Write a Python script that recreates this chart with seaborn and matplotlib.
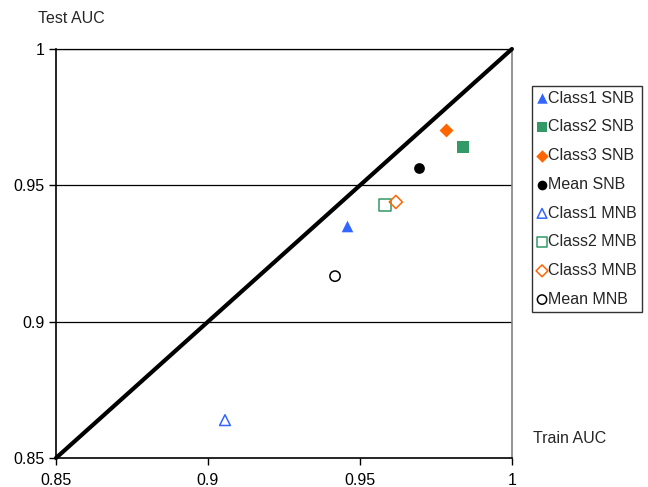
import matplotlib
matplotlib.use("Agg")
import matplotlib.pyplot as plt
import seaborn as sns
import pandas as pd

sns.set_theme(style="white")
plt.rcParams['font.family'] = ['Liberation Sans', 'DejaVu Sans']

labels = ["Class1 SNB", "Class2 SNB", "Class3 SNB", "Mean SNB",
          "Class1 MNB", "Class2 MNB", "Class3 MNB", "Mean MNB"]
train_auc = [0.9457, 0.9839, 0.9783, 0.9694, 0.9056, 0.9582, 0.9618, 0.9418]
test_auc = [0.9350, 0.9640, 0.9703, 0.9563, 0.8639, 0.9428, 0.9439, 0.9167]
colors = ["#3366ff", "#339966", "#ff6600", "#000000",
          "#3366ff", "#339966", "#ff6600", "#000000"]
markers = ["^", "s", "D", "o", "^", "s", "D", "o"]
filled = [True, True, True, True, False, False, False, False]
sizes = [70, 75, 50, 60, 60, 75, 45, 55]

x_ticks = [0.85, 0.9, 0.95, 1.0]
x_ticklabels = ["0.85", "0.9", "0.95", "1"]
y_ticks = [0.85, 0.9, 0.95, 1.0]
y_ticklabels = ["0.85", "0.9", "0.95", "1"]

df = pd.DataFrame({"label": labels, "train": train_auc, "test": test_auc})

fig = plt.figure(figsize=(6.48, 4.87), dpi=100)
ax = fig.add_axes([0.0864, 0.0595, 0.7036, 0.8399])

for i, row in df.iterrows():
    c = colors[i]
    sns.scatterplot(x=[row["train"]], y=[row["test"]], ax=ax, marker=markers[i],
                    s=sizes[i],
                    color=c if filled[i] else "none",
                    edgecolor=c, linewidth=0 if filled[i] else 1.1,
                    label=row["label"], zorder=4)

sns.lineplot(x=[0.85, 1.0], y=[0.85, 1.0], ax=ax, color="black", linewidth=3,
             zorder=3, legend=False, clip_on=False)

for yv in y_ticks[1:]:
    ax.axhline(yv, color="black", linewidth=0.9, zorder=1)

ax.set_xlim(0.85, 1.0)
ax.set_ylim(0.85, 1.0)
ax.set_xticks(x_ticks)
ax.set_xticklabels(x_ticklabels)
ax.set_yticks(y_ticks)
ax.set_yticklabels(y_ticklabels)
ax.tick_params(axis="both", which="both", direction="out", length=5, width=1,
               color="black", labelsize=11.5, labelcolor="black", pad=3,
               left=True, bottom=True)
ax.tick_params(axis="x", pad=6)
ax.set_xlabel("")
ax.set_ylabel("")
for s in ["left", "bottom"]:
    ax.spines[s].set_color("black")
    ax.spines[s].set_linewidth(1.2)
ax.spines["right"].set_color("#808080")
ax.spines["right"].set_linewidth(1.2)
ax.spines["top"].set_color("black")
ax.spines["top"].set_linewidth(0.9)

fig.text(0.0586, 0.963, "Test AUC", fontsize=11.5, ha="left", va="center")
fig.text(0.823, 0.100, "Train AUC", fontsize=11.5, ha="left", va="center")

leg = ax.legend(loc="upper left", bbox_to_anchor=(1.045, 0.91), frameon=True,
                fancybox=False, edgecolor="black", fontsize=11.5,
                handletextpad=0.1, handlelength=0.6, labelspacing=0.86,
                borderpad=0.3, borderaxespad=0, markerscale=0.9)
leg.get_frame().set_linewidth(1.0)

fig.savefig("out.png", dpi=100)
